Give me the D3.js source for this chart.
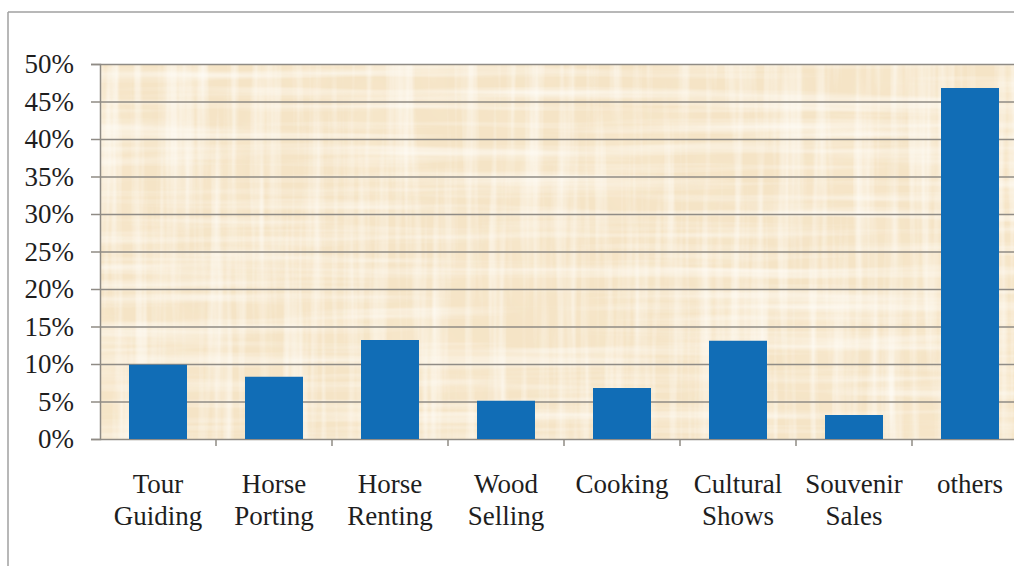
<!DOCTYPE html>
<html>
<head>
<meta charset="utf-8">
<script src="https://cdn.jsdelivr.net/npm/d3@7"></script>
<style>
  body { margin: 0; background: #fff; }
  svg { display: block; }
</style>
</head>
<body>
<svg id="chart" width="1014" height="566"></svg>
<script>
// data
const categories = [
  ["Tour", "Guiding"], ["Horse", "Porting"], ["Horse", "Renting"], ["Wood", "Selling"],
  ["Cooking"], ["Cultural", "Shows"], ["Souvenir", "Sales"], ["others"]
]
const shares = [9.9, 8.3, 13.2, 5.1, 6.8, 13.1, 3.2, 46.8]
const yTicks = [0, 5, 10, 15, 20, 25, 30, 35, 40, 45, 50]

const svg = d3.select("#chart")
const plotLeft = 100, plotRight = 1028, plotTop = 64, plotBottom = 439
const serif = "'Liberation Serif', 'Times New Roman', serif"

const names = categories.map(c => c.join(" "))
const x = d3.scaleBand().domain(names).range([plotLeft, plotRight]).paddingInner(0.5).paddingOuter(0.25)
const xEdge = d3.scaleBand().domain(names).range([plotLeft, plotRight])
const y = d3.scaleLinear().domain([0, 50]).range([plotBottom, plotTop])

// papyrus looking background: crossing light fibres over a beige base
const defs = svg.append("defs")
function fibre(id, freq, seed, alpha) {
  const f = defs.append("filter").attr("id", id).attr("x", 0).attr("y", 0).attr("width", 1).attr("height", 1)
  f.append("feTurbulence").attr("type", "fractalNoise").attr("baseFrequency", freq)
    .attr("numOctaves", 3).attr("seed", seed).attr("result", "n")
  f.append("feColorMatrix").attr("in", "n").attr("type", "matrix")
    .attr("values", "0 0 0 0 1  0 0 0 0 0.99  0 0 0 0 0.96  " + alpha)
}
fibre("fibreV", "0.09 0.004", 5, "1.5 0 0 0 -0.62")
fibre("fibreH", "0.003 0.09", 9, "1.4 0 0 0 -0.58")
const tint = defs.append("filter").attr("id", "tint").attr("x", 0).attr("y", 0).attr("width", 1).attr("height", 1)
tint.append("feTurbulence").attr("type", "fractalNoise").attr("baseFrequency", "0.02 0.01")
  .attr("numOctaves", 2).attr("seed", 2).attr("result", "n")
tint.append("feColorMatrix").attr("in", "n").attr("type", "matrix")
  .attr("values", "0 0 0 0 0.95  0 0 0 0 0.83  0 0 0 0 0.64  1.0 0 0 0 -0.45")

// outer frame
svg.append("line").attr("x1", 8).attr("x2", 1014).attr("y1", 12).attr("y2", 12)
  .attr("stroke", "#a0a0a0").attr("stroke-width", 1.5)
svg.append("line").attr("x1", 8).attr("x2", 8).attr("y1", 12).attr("y2", 566)
  .attr("stroke", "#a0a0a0").attr("stroke-width", 1.5)

const w = 1014 - plotLeft, h = plotBottom - plotTop
svg.append("rect").attr("x", plotLeft).attr("y", plotTop).attr("width", w).attr("height", h)
  .attr("fill", "#f5e4c6")
;["tint", "fibreH", "fibreV"].forEach(id => {
  svg.append("rect").attr("x", plotLeft).attr("y", plotTop).attr("width", w).attr("height", h)
    .attr("filter", `url(#${id})`)
})

// gridlines and y axis
const yAxis = svg.append("g").attr("transform", `translate(${plotLeft},0)`)
  .call(d3.axisLeft(y).tickValues(yTicks).tickSize(9).tickFormat(d => d + "%"))
yAxis.select(".domain").attr("stroke", "#8f8b85").attr("stroke-width", 1.5)
yAxis.selectAll(".tick line").attr("stroke", "#8f8b85").attr("stroke-width", 1.5)
yAxis.selectAll(".tick line").clone().attr("x1", 0).attr("x2", w)
yAxis.selectAll(".tick text").attr("x", -26)
  .style("font-family", serif)
  .style("font-size", "27px").attr("fill", "#1e1e1e")

// bars
svg.append("g").selectAll("rect").data(shares).enter().append("rect")
  .attr("x", (d, i) => x(names[i]))
  .attr("y", d => y(d))
  .attr("width", x.bandwidth())
  .attr("height", d => y(0) - y(d))
  .attr("fill", "#116db6")

// x axis ticks at band edges
svg.append("g").selectAll("line").data(names.slice(1)).enter().append("line")
  .attr("x1", d => xEdge(d)).attr("x2", d => xEdge(d))
  .attr("y1", plotBottom).attr("y2", plotBottom + 7)
  .attr("stroke", "#8f8b85").attr("stroke-width", 1.5)

const labels = svg.append("g").selectAll("text").data(categories).enter().append("text")
  .attr("x", (d, i) => x(names[i]) + x.bandwidth() / 2)
  .attr("y", 493)
  .attr("text-anchor", "middle")
  .style("font-family", serif)
  .style("font-size", "27px").attr("fill", "#1e1e1e")
labels.selectAll("tspan").data(d => d).enter().append("tspan")
  .attr("x", function() { return d3.select(this.parentNode).attr("x") })
  .attr("dy", (d, i) => i == 0 ? 0 : 32)
  .text(d => d)
</script>
</body>
</html>
